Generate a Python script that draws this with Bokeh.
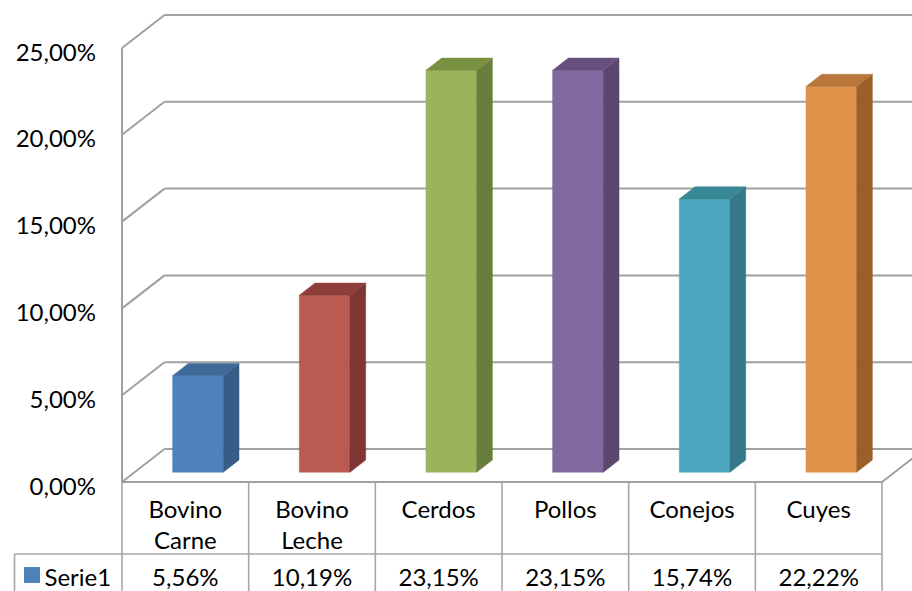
from bokeh.plotting import figure
from bokeh.models import Range1d, ColumnDataSource
from bokeh.core.properties import value
from bokeh.embed import file_html
from bokeh.resources import INLINE

# ---------------- data ----------------
categories = ["Bovino\nCarne", "Bovino\nLeche", "Cerdos", "Pollos", "Conejos", "Cuyes"]
values = [5.56, 10.19, 23.15, 23.15, 15.74, 22.22]
series_name = "Serie1"
tick_values = [0, 5, 10, 15, 20, 25]
tick_labels = ["0,00%", "5,00%", "10,00%", "15,00%", "20,00%", "25,00%"]

front_colors = ["#4F81BA", "#BA5B51", "#9BB45C", "#8169A0", "#4BA8BE", "#E0944B"]
side_colors = ["#375C85", "#7E3533", "#697E3D", "#5A476D", "#34788A", "#9B6029"]
top_colors = ["#3E6A9A", "#8F3E3B", "#78903F", "#66507E", "#388895", "#B8763A"]

# ---------------- layout (screen geometry -> data units) ----------------
W, H = 912, 591
X0_PX = 121.5          # left edge of category columns (front plane)
COL_PX = 126.67        # one category column in pixels
Y0_PX = 481.5          # 0 % on the front plane
PCT_PX = 17.36         # pixels per percentage point
DEPTH_X = 42.5 / COL_PX
DEPTH_Y = 33.0 / PCT_PX
BAR_W = 0.4
F1, F2 = 0.297, 0.667  # bar depth (fraction of wall depth)


def dx(px):
    return (px - X0_PX) / COL_PX


def dy(py):
    return (Y0_PX - py) / PCT_PX


n = len(categories)
p = figure(width=W, height=H, output_backend="svg", toolbar_location=None,
           x_range=Range1d(dx(0), dx(W)), y_range=Range1d(dy(H), dy(0)),
           x_axis_location=None, y_axis_location=None, min_border=0)
p.grid.visible = False
p.outline_line_color = None
p.background_fill_color = "white"
p.border_fill_color = "white"

GRID = "#A0A0A0"
TABLE = "#A6A6A6"

# back wall gridlines
p.segment(x0=[DEPTH_X] * len(tick_values), y0=[t + DEPTH_Y for t in tick_values],
          x1=[n + DEPTH_X + 1] * len(tick_values), y1=[t + DEPTH_Y for t in tick_values],
          line_color=GRID, line_width=2)
# left wall diagonals
p.segment(x0=[0] * len(tick_values), y0=tick_values,
          x1=[DEPTH_X] * len(tick_values), y1=[t + DEPTH_Y for t in tick_values],
          line_color=GRID, line_width=2)
# left wall front edge
p.segment(x0=[0], y0=[0], x1=[0], y1=[max(tick_values)], line_color=GRID, line_width=2)
# floor right diagonal
p.segment(x0=[n], y0=[0], x1=[n + DEPTH_X], y1=[DEPTH_Y], line_color=GRID, line_width=2)

# ---------------- bars ----------------
sx1, sy1 = F1 * DEPTH_X, F1 * DEPTH_Y
sx2, sy2 = F2 * DEPTH_X, F2 * DEPTH_Y
centers = [i + 0.5 for i in range(n)]
front = ColumnDataSource(dict(
    left=[c - BAR_W / 2 + sx1 for c in centers],
    right=[c + BAR_W / 2 + sx1 for c in centers],
    bottom=[sy1] * n,
    top=[v + sy1 for v in values],
    color=front_colors))
p.quad(left="left", right="right", bottom="bottom", top="top", source=front,
       fill_color="color", line_color="color", line_width=0.5)

side_xs, side_ys, top_xs, top_ys = [], [], [], []
for c, v in zip(centers, values):
    r = c + BAR_W / 2
    l = c - BAR_W / 2
    side_xs.append([r + sx1, r + sx2, r + sx2, r + sx1])
    side_ys.append([sy1, sy2, v + sy2, v + sy1])
    top_xs.append([l + sx1, r + sx1, r + sx2, l + sx2])
    top_ys.append([v + sy1, v + sy1, v + sy2, v + sy2])
p.patches(xs=side_xs, ys=side_ys, fill_color=side_colors, line_color=side_colors, line_width=0.5)
p.patches(xs=top_xs, ys=top_ys, fill_color=top_colors, line_color=top_colors, line_width=0.5)

# ---------------- data table ----------------
row_y = dy(553.5)
bottom_y = dy(H + 20)
leg_x = dx(14)
# floor front edge / table top
p.segment(x0=[0], y0=[0], x1=[n], y1=[0], line_color=GRID, line_width=2)
# column verticals
p.segment(x0=list(range(n + 1)), y0=[0] * (n + 1), x1=list(range(n + 1)), y1=[bottom_y] * (n + 1),
          line_color=TABLE, line_width=1.6)
# row divider and legend cell
p.segment(x0=[leg_x, leg_x], y0=[row_y, row_y], x1=[n, leg_x], y1=[row_y, bottom_y],
          line_color=TABLE, line_width=1.6)

FONT = value("Lato")
FS = "24px"
# axis tick labels
p.text(x=[0] * len(tick_values), y=tick_values, text=tick_labels, text_font=FONT,
       text_font_size=FS, text_align="right", text_baseline="middle",
       x_offset=-26, y_offset=3, text_color="#000000")
# category header
p.text(x=centers, y=[0] * n, text=categories, text_font=FONT, text_font_size=FS,
       text_align="center", text_baseline="top", y_offset=12, text_line_height=1.08,
       text_color="#000000")
# value row
value_labels = [f"{v:.2f}".replace(".", ",") + "%" for v in values]
p.text(x=centers, y=[row_y] * n, text=value_labels, text_font=FONT, text_font_size=FS,
       text_align="center", text_baseline="middle", y_offset=22, text_color="#000000")
# legend key + series name
p.scatter(x=[dx(31.5)], y=[dy(574.5)], marker="square", size=15,
          fill_color=front_colors[0], line_color=front_colors[0])
p.text(x=[dx(44)], y=[row_y], text=[series_name], text_font=FONT, text_font_size=FS,
       text_align="left", text_baseline="middle", y_offset=22, text_color="#000000")

open("out.html", "w").write(file_html(p, INLINE))
